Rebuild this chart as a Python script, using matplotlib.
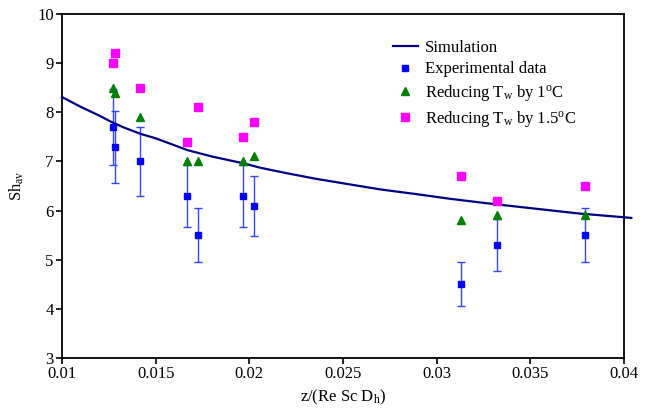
import matplotlib
matplotlib.use("Agg")
import matplotlib.pyplot as plt
import numpy as np

plt.rcParams['font.family'] = ['Liberation Serif', 'DejaVu Serif']
plt.rcParams['mathtext.fontset'] = 'custom'
plt.rcParams['mathtext.rm'] = 'Liberation Serif'
plt.rcParams['mathtext.it'] = 'Liberation Serif:italic'

# -----------------
# DATA
# -----------------
sim_x = [0.0100, 0.0105, 0.0110, 0.0115, 0.0120, 0.0126, 0.0133, 0.0142,
         0.0150, 0.0167, 0.0180, 0.0197, 0.0206, 0.0220, 0.0235, 0.0254,
         0.0270, 0.0290, 0.0307, 0.0320, 0.0331, 0.0350, 0.0376, 0.0398, 0.0404]
sim_y = [8.31, 8.21, 8.11, 8.02, 7.93, 7.81, 7.69, 7.56,
         7.47, 7.23, 7.10, 6.96, 6.87, 6.76, 6.65, 6.53,
         6.43, 6.33, 6.24, 6.18, 6.13, 6.05, 5.94, 5.87, 5.85]

z = [0.01273, 0.01285, 0.01418, 0.01665, 0.01724, 0.01968, 0.02023, 0.03131, 0.03324, 0.03792]
exp_sh = [7.7, 7.3, 7.0, 6.3, 5.5, 6.3, 6.1, 4.5, 5.3, 5.5]
exp_err = [0.77, 0.73, 0.70, 0.63, 0.55, 0.63, 0.61, 0.45, 0.53, 0.55]
red1_sh = [8.5, 8.4, 7.9, 7.0, 7.0, 7.0, 7.1, 5.8, 5.9, 5.9]
red15_sh = [9.0, 9.2, 8.5, 7.4, 8.1, 7.5, 7.8, 6.7, 6.2, 6.5]

# -----------------
# PLOT
# -----------------
fig = plt.figure(figsize=(6.48, 4.11), dpi=100)
ax = fig.add_axes([0.0957, 0.129, 0.867, 0.837])

ax.errorbar(z, exp_sh, yerr=exp_err, fmt='none', ecolor='#3344ff',
            elinewidth=1.0, capsize=3, capthick=1.0, zorder=2)
ax.plot(sim_x, sim_y, color='#000080', lw=1.6, label='Simulation',
        clip_on=False, zorder=3)
ax.plot(z, exp_sh, 's', color='#0000ff', ms=4.5, label='Experimental data', zorder=4)
ax.plot(z, red1_sh, '^', color='#008000', ms=6, label=r'Reducing T$_\mathrm{w}$ by 1$^\mathrm{o}$C', zorder=4)
ax.plot(z, red15_sh, 's', color='#ff00ff', ms=5.5, label=r'Reducing T$_\mathrm{w}$ by 1.5$^\mathrm{o}$C', zorder=4)

ax.set_xlim(0.01, 0.04)
ax.set_ylim(3, 10)
ax.set_xticks([0.01, 0.015, 0.02, 0.025, 0.03, 0.035, 0.04])
ax.set_xticklabels(['0.01', '0.015', '0.02', '0.025', '0.03', '0.035', '0.04'])
ax.set_yticks(range(3, 11))
ax.tick_params(direction='out', length=4, width=1.2, labelsize=12, colors='black', pad=2)
for s in ax.spines.values():
    s.set_linewidth(1.3)

ax.set_xlabel(r'z/(Re Sc D$_\mathrm{h}$)', fontsize=12, labelpad=4)
ax.set_ylabel(r'Sh$_\mathrm{av}$', fontsize=12, labelpad=8)

leg = ax.legend(loc='upper left', bbox_to_anchor=(0.577, 0.945), frameon=False,
                fontsize=12, handlelength=1.5, handletextpad=0.4,
                labelspacing=0.35, borderaxespad=0)

fig.savefig('out.png', dpi=100)
